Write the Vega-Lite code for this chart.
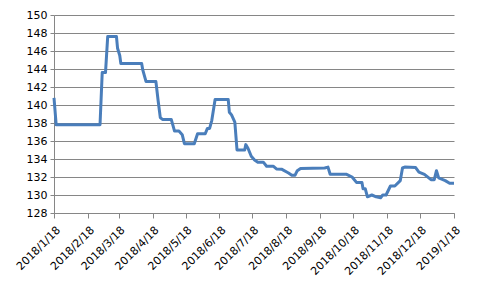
{
  "$schema": "https://vega.github.io/schema/vega-lite/v6.json",
  "width": 400,
  "height": 198,
  "autosize": {"type": "none"},
  "padding": {"left": 54, "top": 15, "right": 27, "bottom": 76},
  "background": "white",
  "config": {"view": {"stroke": null}, "font": "DejaVu Sans"},
  "data": {"values": [
    {"date": "2018-01-18", "value": 140.8},
    {"date": "2018-01-20", "value": 137.8},
    {"date": "2018-03-01", "value": 137.8},
    {"date": "2018-03-03", "value": 143.6},
    {"date": "2018-03-06", "value": 143.6},
    {"date": "2018-03-08", "value": 147.6},
    {"date": "2018-03-16", "value": 147.6},
    {"date": "2018-03-17", "value": 146.3},
    {"date": "2018-03-19", "value": 145.5},
    {"date": "2018-03-20", "value": 144.6},
    {"date": "2018-04-08", "value": 144.6},
    {"date": "2018-04-09", "value": 143.9},
    {"date": "2018-04-12", "value": 142.6},
    {"date": "2018-04-21", "value": 142.6},
    {"date": "2018-04-23", "value": 140.5},
    {"date": "2018-04-25", "value": 138.6},
    {"date": "2018-04-27", "value": 138.4},
    {"date": "2018-05-05", "value": 138.4},
    {"date": "2018-05-08", "value": 137.1},
    {"date": "2018-05-12", "value": 137.1},
    {"date": "2018-05-15", "value": 136.7},
    {"date": "2018-05-17", "value": 135.7},
    {"date": "2018-05-26", "value": 135.7},
    {"date": "2018-05-29", "value": 136.8},
    {"date": "2018-06-05", "value": 136.8},
    {"date": "2018-06-07", "value": 137.4},
    {"date": "2018-06-09", "value": 137.4},
    {"date": "2018-06-11", "value": 138.3},
    {"date": "2018-06-14", "value": 140.6},
    {"date": "2018-06-26", "value": 140.6},
    {"date": "2018-06-27", "value": 139.2},
    {"date": "2018-06-29", "value": 138.9},
    {"date": "2018-07-02", "value": 138.1},
    {"date": "2018-07-04", "value": 135.0},
    {"date": "2018-07-11", "value": 135.0},
    {"date": "2018-07-12", "value": 135.6},
    {"date": "2018-07-14", "value": 135.2},
    {"date": "2018-07-17", "value": 134.3},
    {"date": "2018-07-20", "value": 133.9},
    {"date": "2018-07-23", "value": 133.65},
    {"date": "2018-07-28", "value": 133.65},
    {"date": "2018-07-31", "value": 133.2},
    {"date": "2018-08-06", "value": 133.2},
    {"date": "2018-08-09", "value": 132.9},
    {"date": "2018-08-14", "value": 132.85},
    {"date": "2018-08-20", "value": 132.45},
    {"date": "2018-08-23", "value": 132.2},
    {"date": "2018-08-26", "value": 132.2},
    {"date": "2018-08-28", "value": 132.7},
    {"date": "2018-08-31", "value": 132.95},
    {"date": "2018-09-22", "value": 133.0},
    {"date": "2018-09-25", "value": 133.1},
    {"date": "2018-09-27", "value": 132.3},
    {"date": "2018-10-12", "value": 132.3},
    {"date": "2018-10-17", "value": 132.0},
    {"date": "2018-10-21", "value": 131.4},
    {"date": "2018-10-26", "value": 131.4},
    {"date": "2018-10-27", "value": 130.7},
    {"date": "2018-10-29", "value": 130.7},
    {"date": "2018-10-31", "value": 129.8},
    {"date": "2018-11-04", "value": 130.0},
    {"date": "2018-11-08", "value": 129.8},
    {"date": "2018-11-12", "value": 129.7},
    {"date": "2018-11-14", "value": 130.0},
    {"date": "2018-11-17", "value": 130.0},
    {"date": "2018-11-21", "value": 131.0},
    {"date": "2018-11-25", "value": 131.0},
    {"date": "2018-11-30", "value": 131.6},
    {"date": "2018-12-02", "value": 133.0},
    {"date": "2018-12-04", "value": 133.1},
    {"date": "2018-12-14", "value": 133.05},
    {"date": "2018-12-17", "value": 132.55},
    {"date": "2018-12-22", "value": 132.3},
    {"date": "2018-12-28", "value": 131.7},
    {"date": "2018-12-31", "value": 131.7},
    {"date": "2019-01-02", "value": 132.7},
    {"date": "2019-01-04", "value": 131.9},
    {"date": "2019-01-10", "value": 131.6},
    {"date": "2019-01-14", "value": 131.3},
    {"date": "2019-01-18", "value": 131.3}
  ]},
  "mark": {"type": "line", "color": "#4A7EBB", "strokeWidth": 3, "strokeJoin": "round"},
  "encoding": {
    "x": {
      "field": "date",
      "type": "temporal",
      "scale": {"type": "utc", "domain": [
        {"year": 2018, "month": 1, "date": 18, "utc": true},
        {"year": 2019, "month": 1, "date": 18, "utc": true}
      ]},
      "axis": {
        "title": null,
        "grid": false,
        "values": [
          {"year": 2018, "month": 1, "date": 18, "utc": true},
          {"year": 2018, "month": 2, "date": 18, "utc": true},
          {"year": 2018, "month": 3, "date": 18, "utc": true},
          {"year": 2018, "month": 4, "date": 18, "utc": true},
          {"year": 2018, "month": 5, "date": 18, "utc": true},
          {"year": 2018, "month": 6, "date": 18, "utc": true},
          {"year": 2018, "month": 7, "date": 18, "utc": true},
          {"year": 2018, "month": 8, "date": 18, "utc": true},
          {"year": 2018, "month": 9, "date": 18, "utc": true},
          {"year": 2018, "month": 10, "date": 18, "utc": true},
          {"year": 2018, "month": 11, "date": 18, "utc": true},
          {"year": 2018, "month": 12, "date": 18, "utc": true},
          {"year": 2019, "month": 1, "date": 18, "utc": true}
        ],
        "format": "%Y/%-m/%-d",
        "labelAngle": -45,
        "labelFont": "DejaVu Sans",
        "labelFontSize": 11,
        "labelColor": "#000000",
        "labelPadding": 6,
        "labelOverlap": false,
        "labelFlush": false,
        "domainColor": "#868686",
        "tickColor": "#868686",
        "tickSize": 5
      }
    },
    "y": {
      "field": "value",
      "type": "quantitative",
      "scale": {"domain": [128, 150], "nice": false, "zero": false},
      "axis": {
        "title": null,
        "values": [128, 130, 132, 134, 136, 138, 140, 142, 144, 146, 148, 150],
        "grid": true,
        "gridColor": "#868686",
        "gridWidth": 1,
        "domainColor": "#868686",
        "tickColor": "#868686",
        "tickSize": 4,
        "labelFont": "DejaVu Sans",
        "labelFontSize": 11,
        "labelColor": "#000000",
        "labelPadding": 3,
        "labelOverlap": false,
        "labelFlush": false
      }
    }
  }
}
